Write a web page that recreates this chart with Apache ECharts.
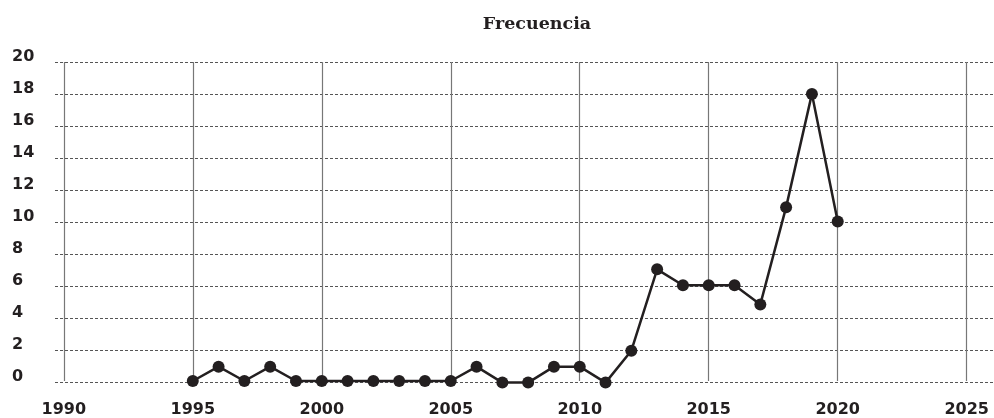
<!DOCTYPE html>
<html>
<head>
<meta charset="utf-8">
<script src="https://cdn.jsdelivr.net/npm/echarts@6/dist/echarts.min.js"></script>
<style>html,body{margin:0;padding:0;background:#fff}#c{width:994px;height:418px}</style>
</head>
<body>
<div id="c"></div>
<script>
const years = [1995,1996,1997,1998,1999,2000,2001,2002,2003,2004,2005,2006,2007,2008,2009,2010,2011,2012,2013,2014,2015,2016,2017,2018,2019,2020];
const frecuencia = [0,0.9,0,0.9,0,0,0,0,0,0,0,0.9,-0.1,-0.1,0.9,0.9,-0.1,1.9,7,6,6,6,4.8,10.9,18,10];
const titleText = 'Frecuencia';
const xMin = 1990, xMax = 2025, xStep = 5;
const yMin = 0, yMax = 20, yStep = 2;

const ink = '#231f20';
const labelFont = {fontFamily: 'DejaVu Sans', fontWeight: 'bold', fontSize: 16, color: ink};
const chart = echarts.init(document.getElementById('c'));
chart.setOption({
  animation: false,
  backgroundColor: '#fff',
  title: {
    text: titleText, left: 532, top: 10, textAlign: 'center',
    textStyle: {fontFamily: 'DejaVu Serif', fontWeight: 'bold', fontSize: 17.5, color: ink}
  },
  grid: [
    {left: 55, right: 0, top: 62, bottom: 36},
    {left: 63.8, right: 27.3, top: 62, bottom: 36}
  ],
  xAxis: [
    {gridIndex: 0, type: 'value', min: 0, max: 1, show: false},
    {gridIndex: 1, type: 'value', min: xMin, max: xMax, interval: xStep,
     axisLine: {show: false}, axisTick: {show: false},
     axisLabel: Object.assign({margin: 21, formatter: v => String(v)}, labelFont),
     splitLine: {show: true, lineStyle: {color: '#777', width: 1.2, type: 'solid'}}}
  ],
  yAxis: [
    {gridIndex: 0, type: 'value', min: yMin, max: yMax, interval: yStep,
     axisLine: {show: false}, axisTick: {show: false},
     axisLabel: Object.assign({margin: 43, align: 'left', verticalAlign: 'bottom', lineHeight: 11}, labelFont),
     splitLine: {show: true, lineStyle: {color: '#555', width: 1, type: [3, 2]}}},
    {gridIndex: 1, type: 'value', min: yMin, max: yMax, interval: yStep, show: false,
     splitLine: {show: false}}
  ],
  series: [{
    type: 'line', xAxisIndex: 1, yAxisIndex: 1, clip: false,
    data: years.map((y, i) => [y, frecuencia[i]]),
    symbol: 'circle', symbolSize: 12, showSymbol: true,
    lineStyle: {color: ink, width: 2.5},
    itemStyle: {color: ink},
    z: 5
  }]
});
</script>
</body>
</html>
